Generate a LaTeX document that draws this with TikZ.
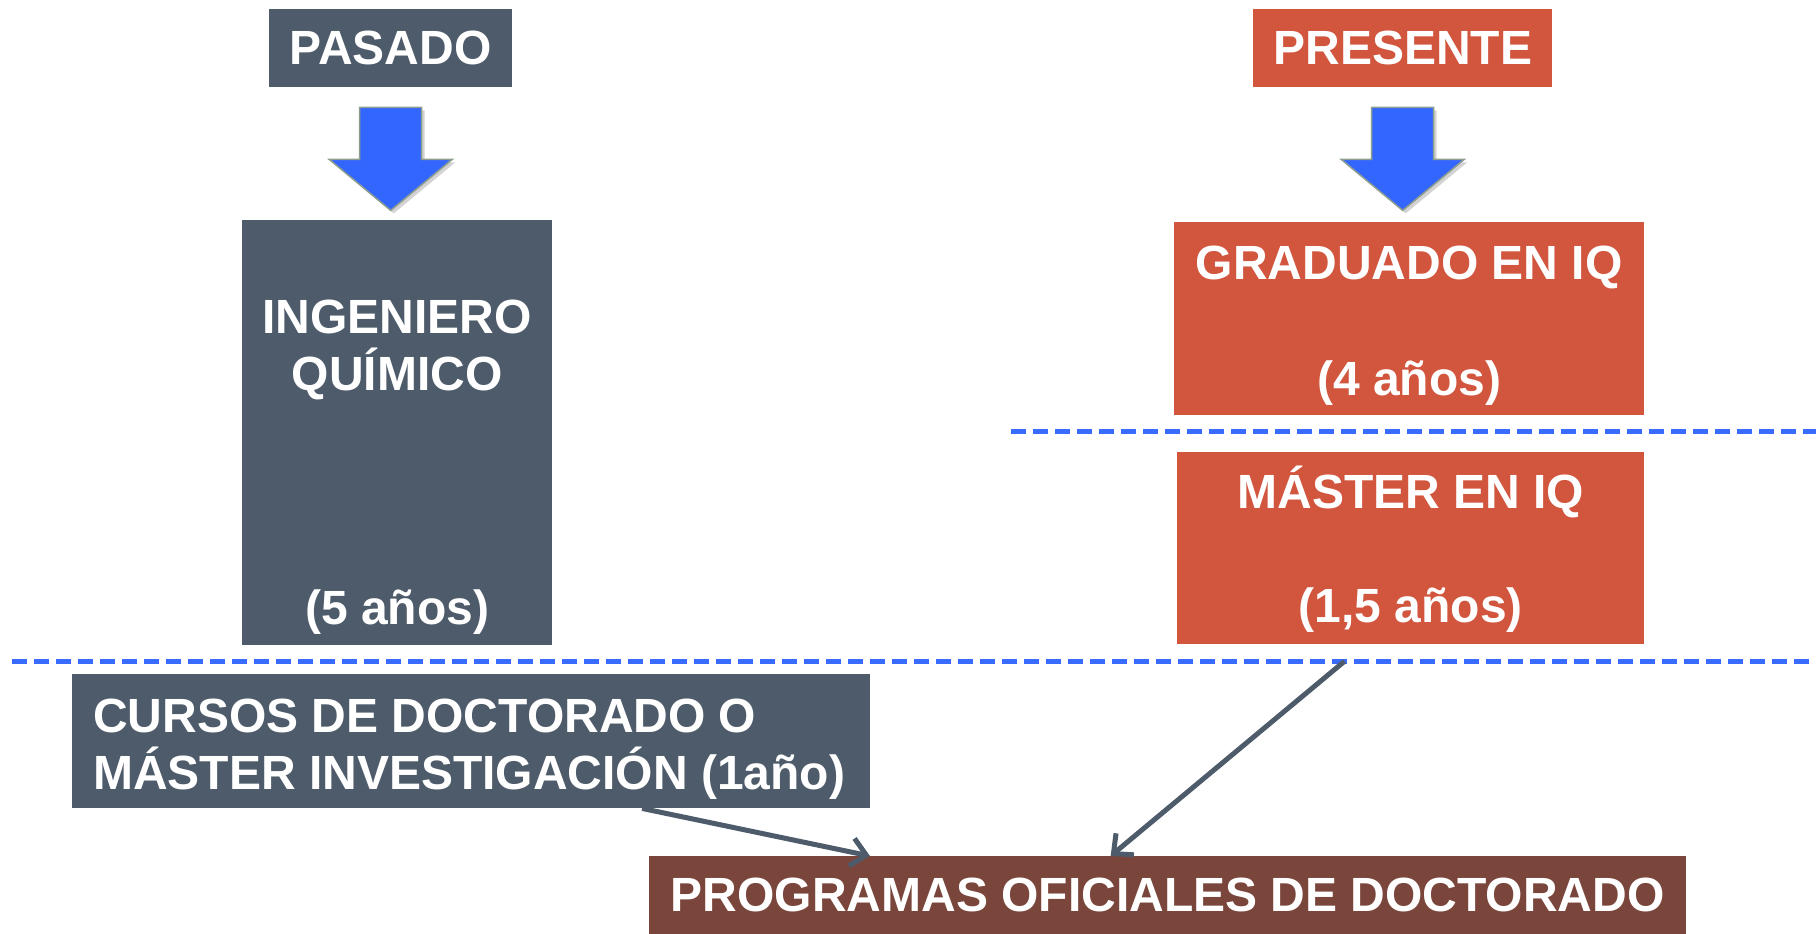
\documentclass[tikz,border=0pt]{standalone}
\usepackage{fontspec}
\setmainfont{Liberation Sans}
\usetikzlibrary{positioning,calc,shadows,arrows.meta}
\definecolor{pizarra}{HTML}{4E5B6A}
\definecolor{teja}{HTML}{D2553E}
\definecolor{granate}{HTML}{7A463C}
\definecolor{azulflecha}{HTML}{3366FF}
\definecolor{bordeflecha}{HTML}{8E9E8E}
\definecolor{azulraya}{HTML}{3A6BFF}
\newcommand{\rot}{\fontsize{48}{57}\selectfont\bfseries}
\newcommand{\flechaabajo}[1]{\fill[azulflecha, draw=bordeflecha, line width=1.5pt,
    drop shadow={shadow xshift=3pt, shadow yshift=-3pt, opacity=.35}]
    ($(#1.south)+(-31,-20)$) -- ++(62,0) -- ++(0,-52) -- ++(30.5,0)
    -- ++(-61.5,-51) -- ++(-61.5,51) -- ++(30.5,0) -- cycle;}
\tikzset{
  caja/.style={fill=#1, inner sep=0pt, anchor=north west},
  rotulo/.style={text=white, font=\rot, align=center, inner sep=0pt},
  separador/.style={azulraya, line width=5pt, dash pattern=on 15pt off 7pt},
  flecha/.style={pizarra, line width=5pt, -{Straight Barb[length=15pt,width=28pt]}}
}
\begin{document}
\begin{tikzpicture}[x=1pt, y=1pt]
            \useasboundingbox (0,0) rectangle (1816,-934);
            % pasado
            \node[caja=pizarra, rotulo, minimum width=243pt, minimum height=78pt] (pasado) at (269,-9) {PASADO};
            \node[caja=pizarra, minimum width=310pt, minimum height=425pt] (ingeniero) at (242,-220) {};
            \node[rotulo, anchor=north] (ingtit) at ([yshift=-80pt]ingeniero.north) {INGENIERO\\QUÍMICO};
            \node[rotulo, anchor=base] (ingdur) at ([yshift=21pt]ingeniero.south) {(5 años)};
            \node[caja=pizarra, minimum width=798pt, minimum height=134pt] (cursos) at (72,-674) {};
            \node[rotulo, align=left, anchor=north west] (curtit) at ([shift={(21pt,-24.4pt)}]cursos.north west) {CURSOS DE DOCTORADO O\\MÁSTER INVESTIGACIÓN (1año)};
            % presente
            \node[caja=teja, rotulo, minimum width=299pt, minimum height=78pt] (presente) at (1253,-9) {PRESENTE};
            \node[caja=teja, minimum width=470pt, minimum height=193pt] (grado) at (1174,-222) {};
            \node[rotulo, anchor=base] (gratit) at ([yshift=-57pt]grado.north) {GRADUADO EN IQ};
            \node[rotulo, anchor=base] (gradur) at ([yshift=20pt]grado.south) {(4 años)};
            \node[caja=teja, minimum width=467pt, minimum height=192pt] (master) at (1177,-452) {};
            \node[rotulo, anchor=base] (mastit) at ([yshift=-56pt]master.north) {MÁSTER EN IQ};
            \node[rotulo, anchor=base] (masdur) at ([yshift=22pt]master.south) {(1,5 años)};
            % doctorado
            \node[caja=granate, rotulo, minimum width=1037pt, minimum height=78pt] (programas) at (649,-856) {PROGRAMAS OFICIALES DE DOCTORADO};
            \flechaabajo{pasado}
            \flechaabajo{presente}
            \draw[separador] (1011,-431) -- (1816,-431);
            \draw[separador] (12,-661) -- (1816,-661);
            \coordinate (salida) at ($(master.south west)!0.358!(master.south east)+(0,-17)$);
            \draw[flecha] ($(cursos.south west)!0.714!(cursos.south east)$) -- ($(programas.north west)!0.213!(programas.north east)$);
            \draw[flecha] (salida) -- ($(programas.north west)!0.445!(programas.north east)$);
          \end{tikzpicture}
\end{document}
